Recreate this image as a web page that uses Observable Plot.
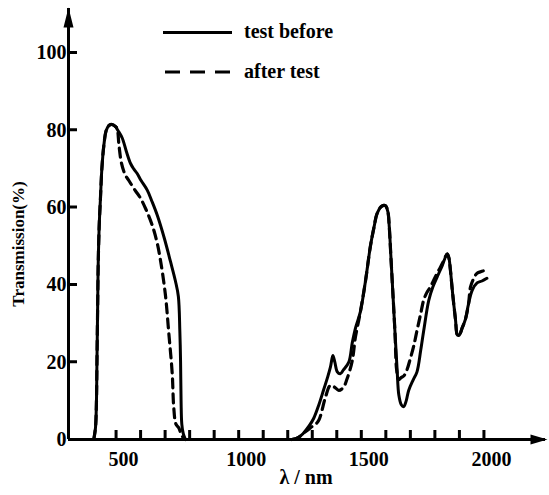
<!DOCTYPE html>
<html><head><meta charset="utf-8">
<script src="https://cdn.jsdelivr.net/npm/d3@7"></script>
<script src="https://cdn.jsdelivr.net/npm/@observablehq/plot@0.6"></script>
<style>
body{margin:0;background:#fff;}
#wrap{position:relative;width:549px;height:495px;font-family:"Liberation Serif",serif;}
#legend{position:absolute;left:0;top:0;pointer-events:none;}
</style></head><body>
<div id="wrap"></div>
<script>
// ---- data ----
const beforeNm = [407,414,418,420,423,425,429,434,440,448,458,470,482,495,505,523,540,557,570,584,600,625,645,666,695,720,740,752,758,761,763,766,772,781,
  null,
  1215,1240,1260,1285,1304,1325,1345,1360,1372,1382,1390,1400,1412,1425,1447,1461,1475,1494,1515,1535,1550,1562,1580,1596,1606,1612,1618,1624,1635,1644,1651,1661,1671,1681,1691,1710,1725,1740,1752,1773,1790,1807,1828,1848,1855,1861,1870,1882,1890,1897,1910,1922,1935,1950,1970,1990,2010];
const beforeT = [0,3,10,20,35,45,55,62,70,76,80,81.3,81.5,81,80,78,74.5,71.4,70,68.8,67,64.5,61.5,58,52,46,41,37,28,20,10,4,1.5,0,
  null,
  0,0.5,1.5,3.5,5.5,9,13,16,18.7,21.7,20,17.5,17,18,20,25,29,33,41,50,55,58.4,60.3,60.5,59,55,48,41,28,18,11.5,9,8.5,10,12.7,15.5,17.5,23,28,36,39.5,42,45,48,47,44,38,31,27,27,29,31,35,38.6,40.5,41,41.7];
const afterNm = [407,414,418,420,423,425,429,434,440,448,458,470,482,495,502,510,520,535,550,575,597,620,645,665,680,699,713,727,733,742,754,766,781,
  null,
  1215,1240,1260,1290,1320,1331,1352,1372,1390,1406,1425,1440,1461,1474,1488,1494,1515,1535,1550,1562,1580,1596,1606,1612,1618,1624,1635,1642,1650,1660,1672,1684,1698,1711,1725,1740,1752,1765,1780,1795,1807,1820,1834,1848,1855,1861,1870,1882,1890,1897,1910,1922,1935,1943,1955,1970,1990,2011];
const afterT = [0,3,10,20,35,45,55,62,70,76,80,81.3,81.5,81,80.5,76,71.5,68.5,67,64.5,62.5,59.5,55.5,51,46,37.5,27.5,17,8.5,4,3,1,0,
  null,
  0,0.5,1.5,3,4.5,6,11,14,13.5,12.7,13.5,15.7,20.4,26.5,31,33,41,50,55,58.4,60.3,60.5,59,55,48,41,28,18,15.5,16,16.5,18,21,24,28.2,32.5,36,38,39.5,41.5,43,44.5,46.3,48,47,44,38,31,27,27,29,31,35,39.4,41.5,43,43.5,44];
const xTicks = [500,600,700,800,900,1000,1100,1200,1300,1400,1500,1600,1700,1800,1900,2000];
const xLabels = [500,1000,1500,2000];
const yTicks = [0,20,40,60,80,100];
const legendLabels = ["test before","after test"];
const xTitle = "λ / nm";
const yTitle = "Transmission(%)";

// ---- build ----
const W = 549, H = 495, mL = 68, mR = 4, mT = 8, mB = 56;
const xDomain = [304, 2249];
const yDomain = [0, 111.5];
const tickPx = 9;
const before = beforeNm.map((x,i)=>({x, y: beforeT[i]}));
const after = afterNm.map((x,i)=>({x, y: afterT[i]}));

const arrowUp = {draw(ctx){ ctx.moveTo(0,-1); ctx.lineTo(5,19); ctx.lineTo(-5,19); ctx.closePath(); }};
const arrowRight = {draw(ctx){ ctx.moveTo(2,0); ctx.lineTo(-15,5); ctx.lineTo(-15,-5); ctx.closePath(); }};

const font = '"Liberation Serif", serif';
const chart = Plot.plot({
  width: W, height: H,
  marginLeft: mL, marginRight: mR, marginTop: mT, marginBottom: mB,
  style: {fontFamily: font, background: "white", color: "black", overflow: "visible"},
  x: {domain: xDomain, label: null},
  y: {domain: yDomain, label: null},
  marks: [
    Plot.line(before, {x: "x", y: "y", stroke: "black", strokeWidth: 3, curve: "catmull-rom"}),
    Plot.line(after, {x: "x", y: "y", stroke: "black", strokeWidth: 3.2, strokeDasharray: "9,6", curve: "catmull-rom"}),
    Plot.ruleY([yDomain[0]], {stroke: "black", strokeWidth: 3}),
    Plot.ruleX([xDomain[0]], {stroke: "black", strokeWidth: 3}),
    Plot.axisX({ticks: xLabels, tickSize: 0, tickPadding: 12, label: null,
      tickFormat: d => String(d), fontSize: 20, fontWeight: "bold", dx: 7}),
    Plot.axisY({ticks: yTicks, tickSize: 0, tickPadding: 2, label: null,
      tickFormat: d => String(d), fontSize: 20, fontWeight: "bold"}),
    Plot.dot([{x: xDomain[0], y: yDomain[1]}], {x: "x", y: "y", symbol: arrowUp, fill: "black", stroke: null, r: 5}),
    Plot.dot([{x: xDomain[1], y: yDomain[0]}], {x: "x", y: "y", symbol: arrowRight, fill: "black", stroke: null, r: 5}),
    Plot.text([yTitle], {frameAnchor: "left", textAnchor: "middle", dx: -50, dy: 20, rotate: -90, fontSize: 17, fontWeight: "bold", fill: "black"}),
    Plot.text([xTitle], {frameAnchor: "bottom", textAnchor: "middle", dy: 44, dx: -1, fontSize: 20, fontWeight: "bold", fill: "black"})
  ]
});
const wrap = document.getElementById("wrap");
wrap.appendChild(chart);

// overlay: inward tick marks (positioned with the chart's own scales) and legend
const sx = chart.scale("x"), sy = chart.scale("y");
const ov = d3.select(wrap).append("svg").attr("id", "legend").attr("width", W).attr("height", H);
const x0 = sx.apply(xDomain[0]), y0 = sy.apply(yDomain[0]);
const tickPath = xTicks.map(d => `M${sx.apply(d)},${y0}V${y0 - tickPx}`).join("") +
  yTicks.filter(d => d > 0).map(d => `M${x0},${sy.apply(d)}H${x0 + tickPx}`).join("");
ov.append("path").attr("d", tickPath).attr("fill", "none").attr("stroke", "#000").attr("stroke-width", 3);

const rows = [{y: 32.5, dash: null}, {y: 72, dash: "15,10"}];
legendLabels.forEach((lab, i) => {
  const r = rows[i];
  ov.append("line").attr("x1", i ? 165 : 163).attr("x2", 232).attr("y1", r.y).attr("y2", r.y)
    .attr("stroke", "black").attr("stroke-width", 3).attr("stroke-dasharray", r.dash);
  ov.append("text").attr("x", 244).attr("y", r.y + 5.5).attr("font-family", font)
    .attr("font-size", 20).attr("font-weight", "bold").text(lab);
});
</script>
</body></html>
